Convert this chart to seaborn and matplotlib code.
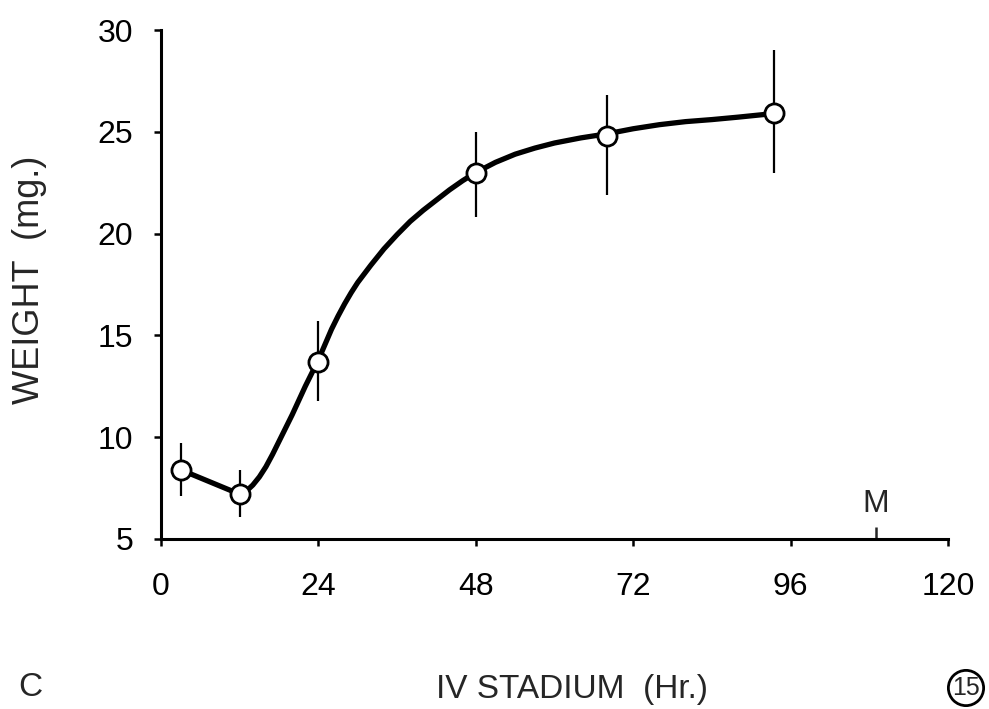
import numpy as np
import pandas as pd
import matplotlib
matplotlib.use("Agg")
import matplotlib.pyplot as plt
import seaborn as sns

hours = [3, 12, 24, 48, 68, 93.5]
weight = [8.4, 7.2, 13.7, 23.0, 24.8, 25.9]
err_low = [7.1, 6.1, 11.8, 20.8, 21.9, 23.0]
err_high = [9.7, 8.4, 15.7, 25.0, 26.8, 29.0]

# hand-drawn smooth curve
curve_x = [3, 12, 13, 14, 15, 16, 17, 18, 19, 20, 21, 22, 23, 24, 25, 26, 27,
           28, 29, 30, 32, 34, 36, 38, 40, 42, 44, 46, 48, 51, 54, 57, 60, 64,
           68, 72, 76, 80, 84, 88, 93.5]
curve_y = [8.4, 7.2, 7.35, 7.65, 8.05, 8.55, 9.15, 9.8, 10.45, 11.1, 11.8, 12.5,
           13.15, 13.8, 14.55, 15.3, 15.95, 16.55, 17.1, 17.6, 18.45, 19.25,
           19.95, 20.6, 21.15, 21.65, 22.15, 22.6, 23.0, 23.5, 23.9, 24.2,
           24.45, 24.7, 24.9, 25.15, 25.35, 25.5, 25.6, 25.72, 25.9]

x_ticks = [0, 24, 48, 72, 96, 120]
y_ticks = [5, 10, 15, 20, 25, 30]
molt_hour = 109

pts = pd.DataFrame({"hours": hours, "weight": weight})
curve = pd.DataFrame({"x": curve_x, "y": curve_y})

sns.set_style("ticks")
plt.rcParams["font.family"] = ["Liberation Sans", "DejaVu Sans"]

fig = plt.figure(figsize=(9.89, 7.09), dpi=100)
ax = fig.add_axes([161 / 989, 1 - 539 / 709, (948 - 161) / 989, (539 - 30) / 709])

sns.lineplot(data=curve, x="x", y="y", ax=ax, color="black", lw=3.8,
             solid_capstyle="round", solid_joinstyle="round", sort=False, zorder=2)

lo = np.array(weight) - np.array(err_low)
hi = np.array(err_high) - np.array(weight)
ax.errorbar(hours, weight, yerr=[lo, hi], fmt="none", ecolor="black",
            elinewidth=1.6, capsize=0, zorder=3)

sns.scatterplot(data=pts, x="hours", y="weight", ax=ax, s=190, color="white",
                edgecolor="black", linewidth=2.0, zorder=4)

ax.set_xlim(0, 120)
ax.set_ylim(5, 30)
ax.set_xticks(x_ticks)
ax.set_yticks(y_ticks)
ax.set_xticklabels([str(t) for t in x_ticks])
ax.set_yticklabels([str(t) for t in y_ticks])
ax.tick_params(axis="both", which="major", labelsize=23, colors="black",
               width=1.8, length=5, direction="out")
ax.tick_params(axis="x", pad=19)
ax.tick_params(axis="y", pad=15)

# molt marker
ax.set_xticks([molt_hour], minor=True)
ax.tick_params(axis="x", which="minor", direction="in", length=9, width=1.8,
               labelbottom=False)
ax.text(molt_hour, 6.35, "M", ha="center", va="baseline", fontsize=23)

for side in ["top", "right"]:
    ax.spines[side].set_visible(False)
for side in ["left", "bottom"]:
    ax.spines[side].set_linewidth(2.2)
    ax.spines[side].set_color("black")

ax.set_ylabel("WEIGHT  (mg.)", fontsize=26)
ax.yaxis.set_label_coords(-0.145, 0.51)
ax.set_xlabel("IV STADIUM  (Hr.)", fontsize=24)
ax.xaxis.set_label_coords(0.522, -0.265)

fig.text(30 / 989, 1 - 688 / 709, "C", fontsize=24, ha="center", va="center")
fig.text(966 / 989, 1 - 688 / 709, "15", fontsize=18, ha="center", va="center",
         bbox=dict(boxstyle="circle,pad=0.15", fc="white", ec="black", lw=2.0))

fig.savefig("out.png", dpi=100, facecolor="white")
